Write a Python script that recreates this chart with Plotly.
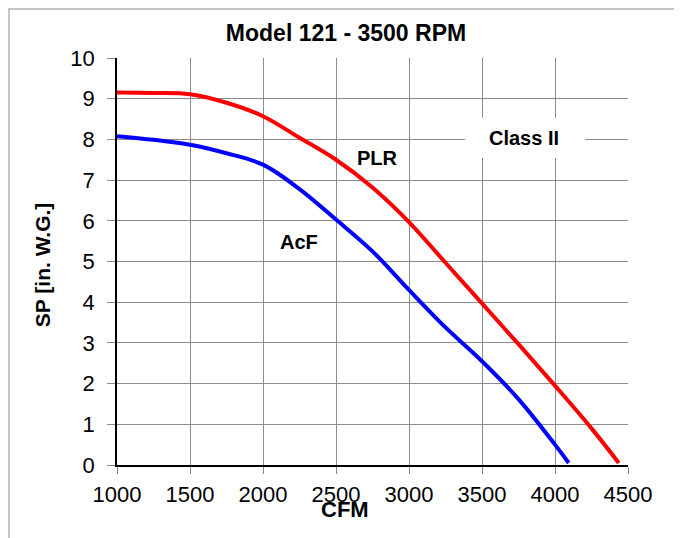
import plotly.graph_objects as go

plr_cfm = [1000, 1250, 1500, 1750, 2000, 2250, 2500, 2750, 3000, 3250, 3500, 3750, 4000, 4250, 4437]
plr_sp = [9.15, 9.14, 9.11, 8.9, 8.57, 8.04, 7.5, 6.82, 5.97, 4.97, 3.97, 2.97, 1.95, 0.9, 0.05]

acf_cfm = [1000, 1250, 1500, 1750, 2000, 2250, 2500, 2750, 3000, 3250, 3500, 3750, 4000, 4094]
acf_sp = [8.08, 7.99, 7.87, 7.66, 7.38, 6.78, 6.03, 5.25, 4.3, 3.38, 2.55, 1.62, 0.5, 0.05]

x_ticks = [1000, 1500, 2000, 2500, 3000, 3500, 4000, 4500]
y_ticks = list(range(0, 11))

FONT = "Liberation Sans, Arial"

fig = go.Figure()
fig.add_trace(go.Scatter(x=plr_cfm, y=plr_sp, mode="lines", name="PLR",
                         line=dict(color="#FF0000", width=4, shape="spline", smoothing=1.0)))
fig.add_trace(go.Scatter(x=acf_cfm, y=acf_sp, mode="lines", name="AcF",
                         line=dict(color="#0000FF", width=4, shape="spline", smoothing=1.0)))

axis_common = dict(showgrid=True, gridcolor="#8c8c8c", gridwidth=1, zeroline=False,
                   ticks="outside", tickcolor="#8c8c8c",
                   tickfont=dict(family=FONT, size=22, color="#000"),
                   showline=True, linecolor="#000", linewidth=1.5)

fig.update_layout(
    width=674, height=530,
    margin=dict(l=109, r=54, t=50, b=73),
    paper_bgcolor="white", plot_bgcolor="white",
    showlegend=False,
    title=dict(text="<b>Model 121 - 3500 RPM</b>", x=0.5015, xanchor="center", xref="container",
               y=1 - 25 / 530, yanchor="middle",
               font=dict(family=FONT, size=23, color="#000")),
    xaxis=dict(range=[1000, 4500], tickvals=x_ticks, ticklen=7, ticklabelstandoff=2,
               **axis_common),
    yaxis=dict(range=[0, 10], tickvals=y_ticks, ticklen=8, ticklabelstandoff=8,
               **axis_common),
    annotations=[
        dict(x=0.446, y=-0.11, xref="paper", yref="paper", text="<b>CFM</b>", showarrow=False,
             yanchor="middle", font=dict(family=FONT, size=22, color="#000")),
        dict(x=-0.1468, y=0.491, xref="paper", yref="paper", text="<b>SP [in. W.G.]</b>",
             showarrow=False, textangle=-90, xanchor="center", yanchor="middle",
             font=dict(family=FONT, size=21, color="#000")),
        dict(x=2781, y=7.54, text="<b>PLR</b>", showarrow=False,
             font=dict(family=FONT, size=20, color="#000")),
        dict(x=2249, y=5.49, text="<b>AcF</b>", showarrow=False,
             font=dict(family=FONT, size=20, color="#000")),
        dict(x=3788, y=8.03, text="<b>Class II</b>", showarrow=False,
             font=dict(family=FONT, size=20, color="#000")),
    ],
    shapes=[
        dict(type="rect", xref="x", yref="y", x0=3384, x1=4205, y0=7.54, y1=8.53,
             fillcolor="white", line=dict(width=0), layer="above"),
        dict(type="rect", xref="paper", yref="paper", x0=-0.2114, x1=1.0998, y0=-0.25, y1=1.1204,
             line=dict(color="#c4c4c4", width=2), layer="below"),
    ],
)

fig.write_html("out.html")
